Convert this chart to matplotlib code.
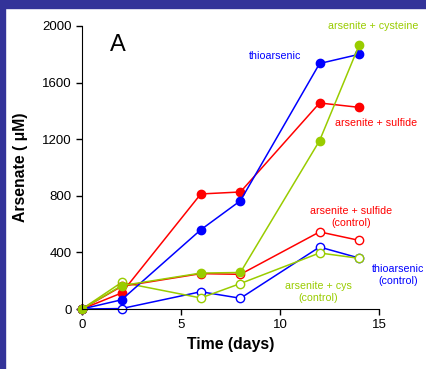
import matplotlib
matplotlib.use("Agg")
import matplotlib.pyplot as plt
from matplotlib.patches import Rectangle

plt.rcParams['font.family'] = ['Liberation Sans', 'DejaVu Sans']

days = [0, 2, 6, 8, 12, 14]
thio = [0, 65, 560, 765, 1735, 1800]
sulfide = [0, 113, 813, 827, 1456, 1425]
cysteine = [0, 165, 254, 258, 1190, 1866]
sulfide_ctrl = [0, 160, 250, 245, 545, 485]
thio_ctrl = [0, 3, 122, 76, 438, 360]
cys_ctrl = [0, 188, 78, 180, 396, 358]

RED = '#ff0000'
BLUE = '#0000ff'
GREEN = '#99cc00'
BORDER = '#333399'

W, H = 426, 369
fig = plt.figure(figsize=(W / 100, H / 100), dpi=100)
fig.patch.set_facecolor('white')
fig.patches.append(Rectangle((0, 0), 5 / W, 1, transform=fig.transFigure, color=BORDER, zorder=-1))
fig.patches.append(Rectangle((0, 1 - 8 / H), 1, 8 / H, transform=fig.transFigure, color=BORDER, zorder=-1))

ax = fig.add_axes([82 / W, 1 - 309 / H, (379 - 82) / W, (309 - 26) / H])
ax.set_xlim(0, 15)
ax.set_ylim(0, 2000)

lw = 1.1
ms = 6.0
for y, c in [(thio_ctrl, BLUE), (cys_ctrl, GREEN), (sulfide_ctrl, RED)]:
    ax.plot(days, y, color=c, lw=lw, marker='o', ms=ms, mfc='white', mec=c, mew=1.0, clip_on=False)
for y, c in [(sulfide, RED), (thio, BLUE), (cysteine, GREEN)]:
    ax.plot(days, y, color=c, lw=lw, marker='o', ms=ms, mfc=c, mec=c, clip_on=False)

for s in ['top', 'right']:
    ax.spines[s].set_visible(False)
ax.set_xticks([0, 5, 10, 15])
ax.set_yticks([0, 400, 800, 1200, 1600, 2000])
ax.tick_params(labelsize=9.5, length=4, direction='out', width=1)
ax.set_xlabel('Time (days)', fontsize=11.3, fontweight='bold', labelpad=4)
ax.set_ylabel('Arsenate ( μM)', fontsize=11.3, fontweight='bold', labelpad=10)

def lab(px, py, text, color):
    fig.text(px / W, 1 - py / H, text, color=color, fontsize=7.7, ha='center', va='center', linespacing=1.15)

fig.text(118 / W, 1 - 45 / H, 'A', fontsize=17, ha='center', va='center')
lab(373, 26, 'arsenite + cysteine', GREEN)
lab(275, 56, 'thioarsenic', BLUE)
lab(376, 123, 'arsenite + sulfide', RED)
lab(351, 217, 'arsenite + sulfide\n(control)', RED)
lab(398, 275, 'thioarsenic\n(control)', BLUE)
lab(318, 292, 'arsenite + cys\n(control)', GREEN)

fig.savefig('out.png', dpi=100)
